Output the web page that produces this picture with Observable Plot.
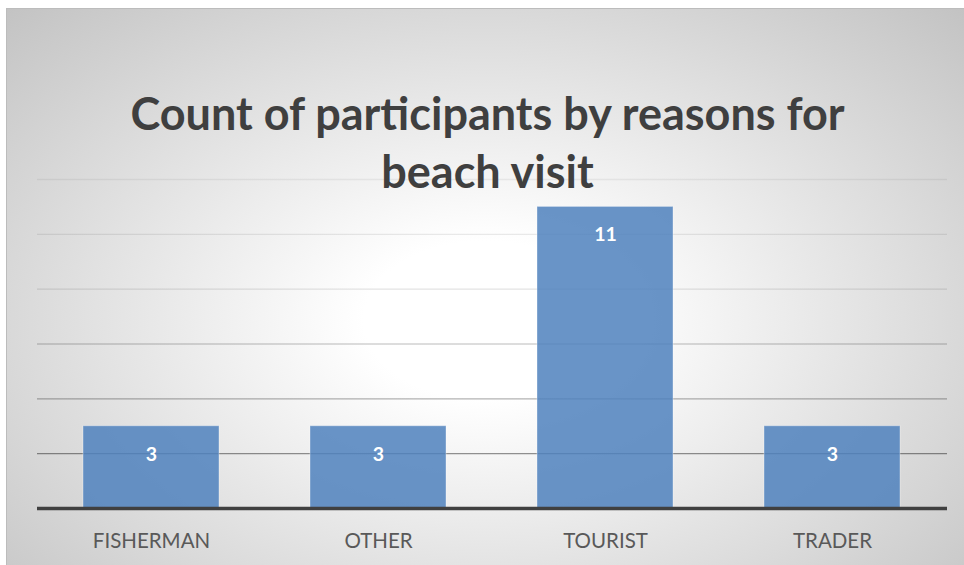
<!DOCTYPE html>
<html>
<head>
<meta charset="utf-8">
<script src="https://cdn.jsdelivr.net/npm/d3@7"></script>
<script src="https://cdn.jsdelivr.net/npm/@observablehq/plot@0.6"></script>
<style>
  html, body { margin: 0; padding: 0; background: #ffffff; }
  #wrap { position: relative; width: 964px; height: 565px; overflow: hidden; }
  #bg {
    position: absolute; left: 6px; top: 8px; width: 958px; height: 557px;
    border-left: 1px solid #bcbcbc; border-top: 1px solid #bcbcbc; box-sizing: border-box;
    background: radial-gradient(ellipse at 50% 56%, #ffffff 0%, #ffffff 18%, #c3c3c3 100%);
  }
  #chart { position: absolute; left: 0; top: 0; }
  #chart svg { background: transparent !important; }
</style>
</head>
<body>
<div id="wrap">
  <div id="bg"></div>
  <div id="chart"></div>
</div>
<script>
const categories = ["FISHERMAN", "OTHER", "TOURIST", "TRADER"];
const counts = [3, 3, 11, 3];
const gridTicks = [2, 4, 6, 8, 10, 12];
const titleLines = ["Count of participants by reasons for", "beach visit"];

const data = categories.map((c, i) => ({reason: c, count: counts[i]}));

const chart = Plot.plot({
  width: 964,
  height: 565,
  marginLeft: 37,
  marginRight: 17,
  marginTop: 179,
  marginBottom: 57,
  style: {background: "transparent", fontFamily: "Lato, sans-serif"},
  x: {domain: categories, paddingInner: 0.4, paddingOuter: 0.2, label: null},
  y: {domain: [0, 12], axis: null},
  marks: [
    Plot.ruleY(gridTicks, {stroke: "url(#gridGrad)", strokeWidth: 1.4}),
    Plot.barY(data, {x: "reason", y: "count", fill: "#4F81BD", fillOpacity: 0.85, stroke: "#ffffff", strokeOpacity: 0.35, strokeWidth: 1}),
    Plot.ruleY([0], {stroke: "#404040", strokeWidth: 3.5}),
    Plot.text(data, {x: "reason", y: "count", text: d => String(d.count), dy: 28, fill: "#ffffff", fontSize: 19.5, fontWeight: "bold"}),
    Plot.axisX({tickSize: 0, tickPadding: 25, fontSize: 20.5, color: "#595959", label: null}),
    Plot.text([titleLines[0]], {frameAnchor: "top", text: d => d, dx: -5, dy: -50, lineAnchor: "bottom", fontSize: 45, fontWeight: "bold", fill: "#3f3f3f"}),
    Plot.text([titleLines[1]], {frameAnchor: "top", text: d => d, dx: -5, dy: 8, lineAnchor: "bottom", fontSize: 45, fontWeight: "bold", fill: "#3f3f3f"})
  ]
});

const svgNS = "http://www.w3.org/2000/svg";
const defs = document.createElementNS(svgNS, "defs");
const grad = document.createElementNS(svgNS, "linearGradient");
grad.setAttribute("id", "gridGrad");
grad.setAttribute("gradientUnits", "userSpaceOnUse");
grad.setAttribute("x1", "0"); grad.setAttribute("y1", "179");
grad.setAttribute("x2", "0"); grad.setAttribute("y2", "453");
[["0", "#000", "0.06"], ["0.5", "#000", "0.12"], ["1", "#000", "0.42"]].forEach(([o, c, op]) => {
  const s = document.createElementNS(svgNS, "stop");
  s.setAttribute("offset", o); s.setAttribute("stop-color", c); s.setAttribute("stop-opacity", op);
  grad.appendChild(s);
});
defs.appendChild(grad);
chart.insertBefore(defs, chart.firstChild);

document.getElementById("chart").appendChild(chart);
</script>
</body>
</html>
